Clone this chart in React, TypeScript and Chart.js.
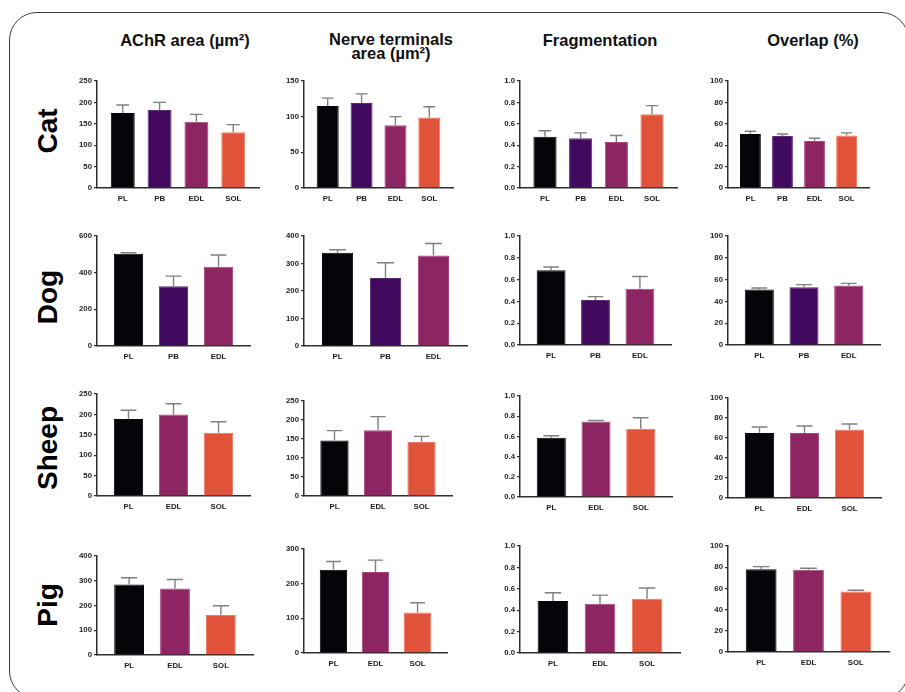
import React, { useEffect, useRef } from "react";
import { Chart, registerables } from "chart.js";

Chart.register(...registerables);

// ---------- Data ----------
const columnTitles = ["AChR area (µm²)", "Nerve terminals\narea (µm²)", "Fragmentation", "Overlap (%)"];
const speciesNames = ["Cat", "Dog", "Sheep", "Pig"];

const catMuscles = ["PL", "PB", "EDL", "SOL"];
const dogMuscles = ["PL", "PB", "EDL"];
const sheepMuscles = ["PL", "EDL", "SOL"];
const pigMuscles = ["PL", "EDL", "SOL"];

const catAchr = [175, 182, 155, 130];
const catAchrErr = [19, 18, 17, 18];
const catNerve = [115, 119, 88, 99];
const catNerveErr = [11, 13, 12, 15];
const catFrag = [0.48, 0.465, 0.43, 0.69];
const catFragErr = [0.055, 0.05, 0.06, 0.08];
const catOverlap = [50.5, 48.5, 44, 49];
const catOverlapErr = [2.5, 2, 2.5, 2.5];

const dogAchr = [503, 326, 432];
const dogAchrErr = [6, 55, 64];
const dogNerve = [339, 247, 329];
const dogNerveErr = [11, 56, 44];
const dogFrag = [0.685, 0.413, 0.517];
const dogFragErr = [0.03, 0.031, 0.112];
const dogOverlap = [51, 53, 54.7];
const dogOverlapErr = [1.3, 2.4, 1.8];

const sheepAchr = [189, 200, 155];
const sheepAchrErr = [21, 26, 27];
const sheepNerve = [146, 173, 142];
const sheepNerveErr = [26, 36, 15];
const sheepFrag = [0.587, 0.748, 0.675];
const sheepFragErr = [0.02, 0.01, 0.11];
const sheepOverlap = [65, 65, 68.5];
const sheepOverlapErr = [6, 7, 5.5];

const pigAchr = [285, 269, 162];
const pigAchrErr = [27, 36, 37];
const pigNerve = [240, 234, 117];
const pigNerveErr = [24, 34, 28];
const pigFrag = [0.486, 0.461, 0.508];
const pigFragErr = [0.077, 0.08, 0.1];
const pigOverlap = [78, 77.5, 57];
const pigOverlapErr = [2.5, 1.5, 1.2];

// y-axis ranges (max, step) per species row, per column
const catAxisMax = [250, 150, 1, 100];
const catAxisStep = [50, 50, 0.2, 20];
const dogAxisMax = [600, 400, 1, 100];
const dogAxisStep = [200, 100, 0.2, 20];
const sheepAxisMax = [250, 250, 1, 100];
const sheepAxisStep = [50, 50, 0.2, 20];
const pigAxisMax = [400, 300, 1, 100];
const pigAxisStep = [100, 100, 0.2, 20];

// ---------- Styles / layout ----------
const FONT = '"Liberation Sans", Arial, Helvetica, sans-serif';
const AXIS = "#2e2e2e";
const TICK = "#1c1c1c";
const muscleColors: Record<string, string> = {
  PL: "#060408",
  PB: "#420a5e",
  EDL: "#8e2563",
  SOL: "#e0523a",
};
const muscleBorders: Record<string, string> = {
  PL: "#060408",
  PB: "#5a2a78",
  EDL: "#a8467c",
  SOL: "#ec7a62",
};

const colAxisX = [97, 304, 520, 728];
const panelTop = [
  [81, 81, 81, 81],
  [236, 236, 236, 236],
  [394, 401, 396, 398],
  [556, 549, 546, 546],
];
const panelZero = [
  [188, 188, 188, 188],
  [346, 346, 345, 345],
  [496, 496, 497, 498],
  [655, 653, 653, 652],
];
const panelEnd = [
  [259, 453, 677, 869],
  [250, 467, 671, 880],
  [250, 452, 672, 881],
  [253, 447, 680, 889],
];
const rowLabelY = [131, 297, 448, 605];
const titleX = [185, 391, 600, 813];

const YW = 40;
const XH = 22;
const PADT = 8;
const PADR = 6;

const errorBarPlugin = {
  id: "errorBars",
  afterDatasetsDraw(chart: any) {
    const ctx = chart.ctx;
    const yScale = chart.scales.y;
    chart.data.datasets.forEach((ds: any, di: number) => {
      const meta = chart.getDatasetMeta(di);
      const errs: number[] = ds.errors || [];
      meta.data.forEach((bar: any, i: number) => {
        const e = errs[i];
        if (e == null) return;
        const v = ds.data[i].y;
        const yTop = yScale.getPixelForValue(v + e);
        const half = bar.width * 0.27;
        ctx.save();
        ctx.strokeStyle = "#808080";
        ctx.lineWidth = 1.4;
        ctx.beginPath();
        ctx.moveTo(bar.x, bar.y);
        ctx.lineTo(bar.x, yTop);
        ctx.moveTo(bar.x - half, yTop);
        ctx.lineTo(bar.x + half, yTop);
        ctx.stroke();
        ctx.restore();
      });
    });
  },
};

type PanelProps = {
  labels: string[];
  values: number[];
  errors: number[];
  max: number;
  step: number;
  row: number;
  col: number;
};

function Panel({ labels, values, errors, max, step, row, col }: PanelProps) {
  const ref = useRef<HTMLCanvasElement>(null);
  const axisX = colAxisX[col];
  const top = panelTop[row][col];
  const zero = panelZero[row][col];
  const end = panelEnd[row][col];
  const left = axisX - YW;
  const cTop = top - PADT;
  const W = end + PADR - left;
  const H = zero + XH - cTop;

  useEffect(() => {
    const n = labels.length;
    const tickFont = { family: FONT, size: 7.8, weight: "bold" as const };
    const chart = new Chart(ref.current as HTMLCanvasElement, {
      type: "bar",
      data: {
        datasets: [
          {
            data: values.map((v, i) => ({ x: i, y: v })),
            errors,
            backgroundColor: labels.map((l) => muscleColors[l]),
            borderColor: labels.map((l) => muscleBorders[l]),
            borderWidth: 1,
            categoryPercentage: 1,
            barPercentage: 0.65,
          } as any,
        ],
      },
      options: {
        animation: false,
        responsive: false,
        maintainAspectRatio: false,
        events: [],
        layout: { padding: { top: PADT, right: PADR, left: 0, bottom: 0 } },
        plugins: { legend: { display: false }, tooltip: { enabled: false } },
        scales: {
          x: {
            type: "linear",
            min: -0.7,
            max: n - 1 + 0.7,
            offset: false,
            afterBuildTicks: (s: any) => {
              s.ticks = labels.map((_, i) => ({ value: i }));
            },
            afterFit: (s: any) => {
              s.height = XH;
            },
            grid: { display: false, drawTicks: false },
            border: { display: true, color: AXIS, width: 1.5 },
            ticks: {
              autoSkip: false,
              maxRotation: 0,
              minRotation: 0,
              padding: 6,
              color: TICK,
              font: tickFont,
              callback: (v: any) => labels[Math.round(Number(v))] ?? "",
            },
          },
          y: {
            min: 0,
            max,
            afterFit: (s: any) => {
              s.width = YW;
            },
            grid: {
              display: true,
              drawOnChartArea: false,
              drawTicks: true,
              tickLength: 3,
              color: AXIS,
              lineWidth: 1.2,
            },
            border: { display: true, color: AXIS, width: 1.5 },
            ticks: {
              stepSize: step,
              padding: 2,
              color: TICK,
              font: tickFont,
              callback: (v: any) => (step < 1 ? Number(v).toFixed(1) : String(Math.round(Number(v)))),
            },
          },
        },
      },
      plugins: [errorBarPlugin],
    });
    return () => chart.destroy();
  }, []);

  return (
    <canvas
      ref={ref}
      width={W}
      height={H}
      style={{ position: "absolute", left, top: cTop, width: W, height: H }}
    />
  );
}

const rows = [
  {
    labels: catMuscles,
    values: [catAchr, catNerve, catFrag, catOverlap],
    errors: [catAchrErr, catNerveErr, catFragErr, catOverlapErr],
    max: catAxisMax,
    step: catAxisStep,
  },
  {
    labels: dogMuscles,
    values: [dogAchr, dogNerve, dogFrag, dogOverlap],
    errors: [dogAchrErr, dogNerveErr, dogFragErr, dogOverlapErr],
    max: dogAxisMax,
    step: dogAxisStep,
  },
  {
    labels: sheepMuscles,
    values: [sheepAchr, sheepNerve, sheepFrag, sheepOverlap],
    errors: [sheepAchrErr, sheepNerveErr, sheepFragErr, sheepOverlapErr],
    max: sheepAxisMax,
    step: sheepAxisStep,
  },
  {
    labels: pigMuscles,
    values: [pigAchr, pigNerve, pigFrag, pigOverlap],
    errors: [pigAchrErr, pigNerveErr, pigFragErr, pigOverlapErr],
    max: pigAxisMax,
    step: pigAxisStep,
  },
];

export default function App() {
  return (
    <div
      style={{
        position: "absolute",
        left: 0,
        top: 0,
        width: 905,
        height: 692,
        overflow: "hidden",
        background: "#ffffff",
        fontFamily: FONT,
      }}
    >
      <div
        style={{
          position: "absolute",
          left: 9,
          top: 12,
          width: 900,
          height: 687,
          boxSizing: "border-box",
          border: "1.5px solid #3a3a3a",
          borderRadius: 28,
        }}
      />
      {columnTitles.map((t, c) => {
        const twoLine = t.includes("\n");
        return (
          <div
            key={"t" + c}
            style={{
              position: "absolute",
              left: titleX[c] - 100,
              top: twoLine ? 31.6 : 32,
              width: 200,
              textAlign: "center",
              fontWeight: "bold",
              fontSize: 16.5,
              lineHeight: twoLine ? "14px" : "16.5px",
              whiteSpace: "pre",
              color: "#111",
            }}
          >
            {t}
          </div>
        );
      })}
      {speciesNames.map((s, r) => (
        <div
          key={"s" + r}
          style={{
            position: "absolute",
            left: 48,
            top: rowLabelY[r],
            transform: "translate(-50%, -50%) rotate(-90deg)",
            fontWeight: "bold",
            fontSize: 28,
            lineHeight: 1,
            whiteSpace: "nowrap",
            color: "#000",
          }}
        >
          {s}
        </div>
      ))}
      {rows.map((rw, r) =>
        rw.values.map((vals, c) => (
          <Panel
            key={r + "-" + c}
            labels={rw.labels}
            values={vals}
            errors={rw.errors[c]}
            max={rw.max[c]}
            step={rw.step[c]}
            row={r}
            col={c}
          />
        ))
      )}
    </div>
  );
}
